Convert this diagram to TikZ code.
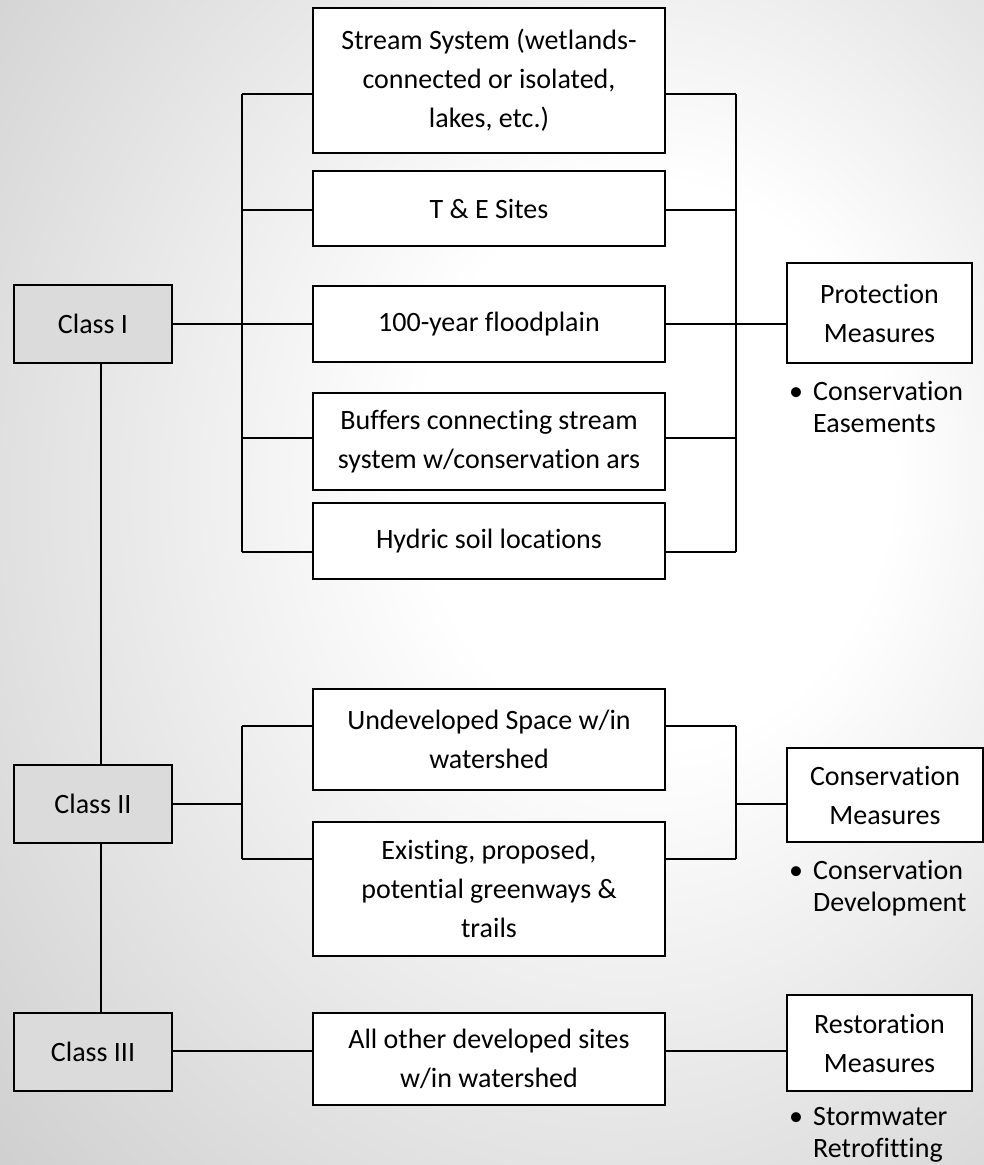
\documentclass[tikz,border=0pt]{standalone}
\usepackage{fontspec}
\setmainfont{Carlito}[Ligatures=NoCommon]
\usepackage{xcolor}
\usepackage{tikz}
\usetikzlibrary{shapes}
\tikzstyle{box}=[rectangle,draw=black,fill=white,line width=2pt,minimum width=352pt,align=center,inner sep=0pt]
\tikzstyle{class}=[rectangle,draw=black,fill=gray!28,line width=2pt,minimum width=158pt,minimum height=78pt]
\tikzstyle{measure}=[rectangle,draw=black,fill=white,line width=2pt,minimum width=185pt,align=center,inner sep=0pt]
\tikzstyle{note}=[anchor=north west,inner sep=0pt,font=\fontsize{28}{32}\selectfont]
\tikzstyle{wire}=[line width=2pt]
\pgfdeclareradialshading{paper}{\pgfpoint{10bp}{6bp}}{color(0bp)=(white);color(12bp)=(white);color(50bp)=(black!25);color(72bp)=(black!33)}
\newcommand{\measurenote}[2]{\begin{tabular}{@{}l@{\hspace{10pt}}l@{}}\textbullet & #1\\ & #2\end{tabular}}

\begin{document}
\begin{tikzpicture}[x=1pt,y=-1pt,font=\fontsize{28}{39}\selectfont]
        \shade [shading=paper] (0,0) rectangle (984,1165);
        \useasboundingbox (0,0) rectangle (984,1165);
        % classes
        \node at ( 93, 324) [class] (classI) {Class I};
        \node at ( 93,803.5) [class] (classII) {Class II};
        \node at ( 93,1052) [class] (classIII) {Class III};
        % class I areas
        \node at (489,80.5) [box,minimum height=145pt] (stream) {Stream System (wetlands-\\connected or isolated,\\lakes, etc.)};
        \node at (489,208.5) [box,minimum height=75pt] (te) {T \& E Sites};
        \node at (489,324) [box,minimum height=76pt] (flood) {100-year floodplain};
        \node at (489,441.5) [box,minimum height=97pt] (buffers) {Buffers connecting stream\\system w/conservation ars};
        \node at (489,541) [box,minimum height=76pt] (hydric) {Hydric soil locations};
        % class II areas
        \node at (489,739.5) [box,minimum height=101pt] (undev) {Undeveloped Space w/in\\watershed};
        \node at (489,889) [box,minimum height=134pt] (greenway) {Existing, proposed,\\potential greenways \&\\trails};
        % class III areas
        \node at (489,1059) [box,minimum height=92pt] (developed) {All other developed sites\\w/in watershed};
        % measures
        \node at (879.5,313) [measure,minimum height=100pt] (protect) {Protection\\Measures};
        \node at (885,795) [measure,minimum width=196pt,minimum height=94pt] (conserve) {Conservation\\Measures};
        \node at (879.5,1043) [measure,minimum height=96pt] (restore) {Restoration\\Measures};
        \node at (789,377.6) [note] (protectnote) {\measurenote{Conservation}{Easements}};
        \node at (789,856.6) [note] (conservenote) {\measurenote{Conservation}{Development}};
        \node at (789,1102.6) [note] (restorenote) {\measurenote{Stormwater}{Retrofitting}};
        % buses
        \coordinate (spine) at (101,0);
        \coordinate (lbusI) at (242,94);
        \coordinate (rbusI) at (736,94);
        \coordinate (lbusII) at (242,726);
        \coordinate (rbusII) at (736,726);
        \draw [wire] (spine |- classI.south) -- (spine |- classII.north);
        \draw [wire] (spine |- classII.south) -- (spine |- classIII.north);
        \draw [wire] (lbusI) -- (lbusI |- 0,552);
        \draw [wire] (rbusI) -- (rbusI |- 0,552);
        \foreach \n/\y in {stream/94,te/210,flood/324,buffers/438,hydric/552}
          \draw [wire] (lbusI |- 0,\y) -- (\n.west |- 0,\y) (\n.east |- 0,\y) -- (rbusI |- 0,\y);
        \draw [wire] (classI) -- (flood);
        \draw [wire] (flood.east) -- (flood.east -| protect.west);
        \draw [wire] (lbusII) -- (lbusII |- 0,859);
        \draw [wire] (rbusII) -- (rbusII |- 0,859);
        \foreach \n/\y in {undev/726,greenway/859}
          \draw [wire] (lbusII |- 0,\y) -- (\n.west |- 0,\y) (\n.east |- 0,\y) -- (rbusII |- 0,\y);
        \draw [wire] (classII.east |- 0,804) -- (lbusII |- 0,804);
        \draw [wire] (rbusII |- 0,804) -- (conserve.west |- 0,804);
        \draw [wire] (classIII.east |- 0,1051) -- (developed.west |- 0,1051);
        \draw [wire] (developed.east |- 0,1051) -- (restore.west |- 0,1051);
      \end{tikzpicture}
\end{document}
